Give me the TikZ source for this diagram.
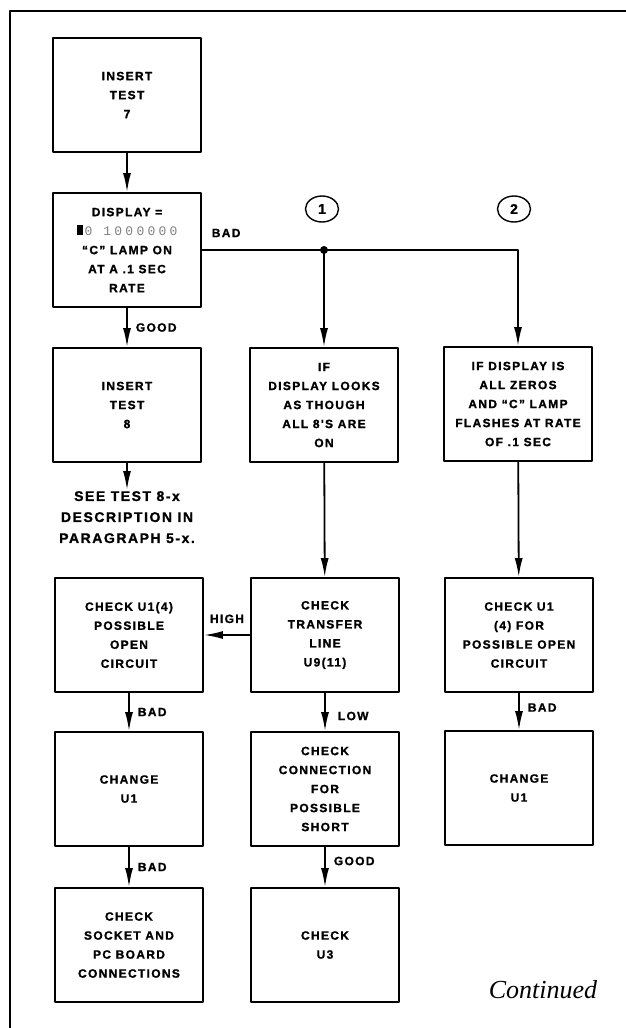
\documentclass[tikz,border=0pt]{standalone}
\usepackage{fontspec}
\newfontfamily\boxfont[LetterSpace=11,FakeBold=1.2]{Liberation Sans Bold}
\newfontfamily\segfont[LetterSpace=25]{Liberation Mono}
\newfontfamily\contfont{Liberation Serif}
\usetikzlibrary{arrows.meta,positioning,shapes.geometric}

\begin{document}
\begin{tikzpicture}[
  x=1pt,y=-1pt,
  line cap=round,line join=round,
  box/.style={draw,line width=1.8pt,minimum width=148pt,minimum height=114pt,
    align=center,inner sep=2pt,font=\boxfont\fontsize{12}{19}\selectfont},
  link/.style={line width=1.8pt,-{Latex[length=19pt,width=8pt]}},
  wire/.style={line width=1.8pt},
  tag/.style={inner sep=1pt,font=\boxfont\fontsize{12}{14}\selectfont},
  branch/.style={ellipse,draw,line width=1.4pt,minimum width=33pt,minimum height=26pt,
    inner sep=0pt,font=\boxfont\fontsize{14}{14}\selectfont},
  >=Latex
]
  \useasboundingbox (0,0) rectangle (626,1028);

  % Frame
  \draw[line width=2.5pt,line cap=butt] (626,11) -- (10,11) -- (10,1028);

  % Left column
  \node[box] (test7) at (127,95) {INSERT\\TEST\\7};
  \node[box] (disp) at (127,250) {DISPLAY =\\
    {\rule{6pt}{10pt}\,\segfont\fontsize{13}{19}\selectfont\color{black!50}0 1000000}\\
    “C” LAMP ON\\AT A .1 SEC\\RATE};
  \node[box] (test8) at (127,405) {INSERT\\TEST\\8};
  \node[tag,anchor=north,align=center,font=\boxfont\fontsize{14}{21}\selectfont]
    (seetest) at (127,490) {SEE TEST 8-x\\DESCRIPTION IN\\PARAGRAPH 5-x.};
  \node[box] (u1open) at (129,635) {CHECK U1(4)\\POSSIBLE\\OPEN\\CIRCUIT};
  \node[box] (chgu1) at (129,789) {CHANGE\\U1};
  \node[box] (socket) at (129,945) {CHECK\\SOCKET AND\\PC BOARD\\CONNECTIONS};

  % Middle column
  \node[branch] (c1) at (322,209) {1};
  \node[box] (ifall8) at (324,405) {IF\\DISPLAY LOOKS\\AS THOUGH\\ALL 8'S ARE\\ON};
  \node[box] (transfer) at (325,635) {CHECK\\TRANSFER\\LINE\\U9(11)};
  \node[box] (conn) at (325,789) {CHECK\\CONNECTION\\FOR\\POSSIBLE\\SHORT};
  \node[box] (chku3) at (325,945) {CHECK\\U3};

  % Right column
  \node[branch] (c2) at (514,209) {2};
  \node[box] (ifzeros) at (518,404) {IF DISPLAY IS\\ALL ZEROS\\AND “C” LAMP\\FLASHES AT RATE\\OF .1 SEC};
  \node[box] (u1open2) at (519,635) {CHECK U1\\(4) FOR\\POSSIBLE OPEN\\CIRCUIT};
  \node[box] (chgu1b) at (519,788) {CHANGE\\U1};

  % Branch point
  \coordinate (fork) at (ifall8.north |- disp.east);

  % Connectors
  \draw[link] (test7) -- (disp);
  \draw[link] (disp) -- node[tag,right=7pt] {GOOD} (test8);
  \draw[link] (test8) -- (seetest);
  \draw[wire] (disp.east) -- node[tag,pos=0,anchor=south west,xshift=8pt,yshift=11pt] {BAD} (fork);
  \draw[link] (fork) -- (ifall8);
  \draw[link] (fork) -| (ifzeros);
  \fill (fork) circle (4pt);
  \draw[link] (ifall8) -- (transfer);
  \draw[link] (ifzeros) -- (u1open2);
  \draw[link] (transfer) -- node[tag,above=10pt] {HIGH} (u1open);
  \draw[link] (transfer) -- node[tag,right=11pt,yshift=-4pt] {LOW} (conn);
  \draw[link] (conn) -- node[tag,right=7pt,yshift=6pt] {GOOD} (chku3);
  \draw[link] (u1open) -- node[tag,right=7pt] {BAD} (chgu1);
  \draw[link] (chgu1) -- node[tag,right=7pt] {BAD} (socket);
  \draw[link] (u1open2) -- node[tag,right=7pt,yshift=4pt] {BAD} (chgu1b);

  % Footer
  \node[font=\contfont\itshape\fontsize{26}{26}\selectfont] (cont) at (543,990) {Continued};
\end{tikzpicture}
\end{document}
